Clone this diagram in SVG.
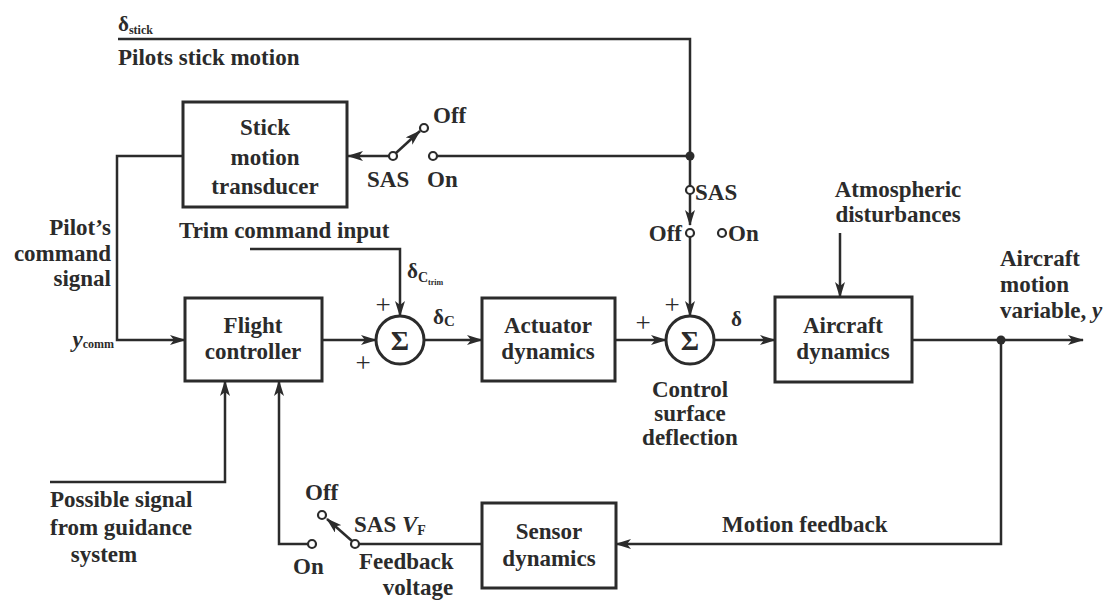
<svg xmlns="http://www.w3.org/2000/svg" width="1115" height="602" viewBox="0 0 1115 602">
<defs>
<marker id="ah" viewBox="0 0 16 10" refX="15" refY="5" markerWidth="16" markerHeight="10" markerUnits="userSpaceOnUse" orient="auto">
<path d="M0,0 L16,5 L0,10 L4,5 Z" fill="#2b2b2b"/>
</marker>
</defs>
<style>
.t{font-family:"Liberation Serif","Times New Roman",serif;font-weight:bold;font-size:23px;fill:#2b2b2b}
.m{text-anchor:middle}
.e{text-anchor:end}
.p{font-size:27px;font-weight:normal}
.box{fill:none;stroke:#2b2b2b;stroke-width:3}
.ln{fill:none;stroke:#2b2b2b;stroke-width:2.5}
.ar{fill:none;stroke:#2b2b2b;stroke-width:2.5;marker-end:url(#ah)}
.ct{fill:#fff;stroke:#2b2b2b;stroke-width:2.2}
.dot{fill:#2b2b2b}
.sum{fill:none;stroke:#2b2b2b;stroke-width:3}
</style>
<rect width="1115" height="602" fill="#fff"/>

<g id="connectors">
<path class="ln" d="M118,39 H690 V186"/>
<path class="ln" d="M690,156 H437"/>
<path class="ar" d="M389,156 H348"/>
<path class="ar" d="M396,153 L420,131"/>
<path class="ar" d="M183,156 H117 V340 H185"/>
<path class="ar" d="M322,340 H376"/>
<path class="ar" d="M250,249 H400 V316"/>
<path class="ar" d="M424,340 H482"/>
<path class="ar" d="M615,340 H666"/>
<path class="ar" d="M690,194 V225"/>
<path class="ar" d="M690,237 V316"/>
<path class="ar" d="M714,340 H775"/>
<path class="ar" d="M840,233 V297"/>
<path class="ar" d="M912,340 H1083"/>
<path class="ar" d="M1001,340 V544 H616"/>
<path class="ln" d="M482,544 H359"/>
<path class="ar" d="M352,541 L327,519"/>
<path class="ar" d="M308,544 H279 V381"/>
<path class="ar" d="M50,482 H225 V381"/>
<circle class="dot" cx="690" cy="156" r="4.5"/>
<circle class="dot" cx="1001" cy="340" r="4.5"/>
<circle class="ct" cx="393" cy="156" r="4"/>
<circle class="ct" cx="424" cy="128" r="4"/>
<circle class="ct" cx="433" cy="156" r="4"/>
<circle class="ct" cx="690" cy="190" r="4"/>
<circle class="ct" cx="690" cy="233" r="4"/>
<circle class="ct" cx="722" cy="233" r="4"/>
<circle class="ct" cx="355" cy="544" r="4"/>
<circle class="ct" cx="322" cy="515" r="4"/>
<circle class="ct" cx="312" cy="544" r="4"/>
</g>

<g id="labels">
<text class="t" x="118" y="31" style="font-size:21px">δ<tspan dy="3" style="font-size:12px">stick</tspan></text>
<text class="t" x="118" y="65">Pilots stick motion</text>
<text class="t" x="433" y="123">Off</text>
<text class="t" x="367" y="187">SAS</text>
<text class="t" x="427" y="187">On</text>
<text class="t e" x="111" y="235">Pilot’s</text>
<text class="t e" x="111" y="261">command</text>
<text class="t e" x="111" y="286">signal</text>
<text class="t" x="179" y="238">Trim command input</text>
<text class="t" x="407" y="278" style="font-size:21px">δ<tspan dy="4" style="font-size:14px">C</tspan><tspan dy="3" style="font-size:8px">trim</tspan></text>
<text class="t e" x="114" y="347"><tspan style="font-style:italic">y</tspan><tspan dy="1" style="font-size:12px">comm</tspan></text>
<text class="t m p" x="383" y="314">+</text>
<text class="t m p" x="363" y="372">+</text>
<text class="t" x="433" y="324" style="font-size:21px">δ<tspan dy="2" style="font-size:15px">C</tspan></text>
<text class="t m p" x="643" y="332">+</text>
<text class="t m p" x="672" y="314">+</text>
<text class="t" x="731" y="326" style="font-size:21px">δ</text>
<text class="t" x="695" y="200">SAS</text>
<text class="t e" x="682" y="241">Off</text>
<text class="t" x="728" y="241">On</text>
<text class="t m" x="898" y="197">Atmospheric</text>
<text class="t m" x="898" y="222">disturbances</text>
<text class="t" x="1000" y="266">Aircraft</text>
<text class="t" x="1000" y="292">motion</text>
<text class="t" x="1000" y="318">variable, <tspan style="font-style:italic">y</tspan></text>
<text class="t m" x="690" y="397">Control</text>
<text class="t m" x="690" y="421">surface</text>
<text class="t m" x="690" y="445">deflection</text>
<text class="t" x="50" y="507">Possible signal</text>
<text class="t" x="50" y="535">from guidance</text>
<text class="t m" x="104" y="562">system</text>
<text class="t" x="305" y="500">Off</text>
<text class="t" x="293" y="574">On</text>
<text class="t" x="354" y="532">SAS <tspan style="font-style:italic">V</tspan><tspan dy="3" style="font-size:14px">F</tspan></text>
<text class="t" x="359" y="569">Feedback</text>
<text class="t m" x="418" y="595">voltage</text>
<text class="t" x="722" y="532">Motion feedback</text>
</g>

<g id="stick-motion-transducer">
<rect class="box" x="183" y="102" width="164" height="105"/>
<text class="t m" x="265" y="135">Stick</text>
<text class="t m" x="265" y="165">motion</text>
<text class="t m" x="265" y="194">transducer</text>
</g>
<g id="flight-controller">
<rect class="box" x="185" y="298" width="137" height="83"/>
<text class="t m" x="253" y="333">Flight</text>
<text class="t m" x="253" y="359">controller</text>
</g>
<g id="sum1">
<circle class="sum" cx="400" cy="340" r="24"/>
<text class="t m" x="400" y="350" style="font-size:28px">Σ</text>
</g>
<g id="actuator-dynamics">
<rect class="box" x="482" y="298" width="133" height="83"/>
<text class="t m" x="548" y="333">Actuator</text>
<text class="t m" x="548" y="359">dynamics</text>
</g>
<g id="sum2">
<circle class="sum" cx="690" cy="340" r="24"/>
<text class="t m" x="690" y="350" style="font-size:28px">Σ</text>
</g>
<g id="aircraft-dynamics">
<rect class="box" x="775" y="297" width="137" height="85"/>
<text class="t m" x="843" y="333">Aircraft</text>
<text class="t m" x="843" y="359">dynamics</text>
</g>
<g id="sensor-dynamics">
<rect class="box" x="482" y="503" width="134" height="85"/>
<text class="t m" x="549" y="539">Sensor</text>
<text class="t m" x="549" y="566">dynamics</text>
</g>
</svg>
